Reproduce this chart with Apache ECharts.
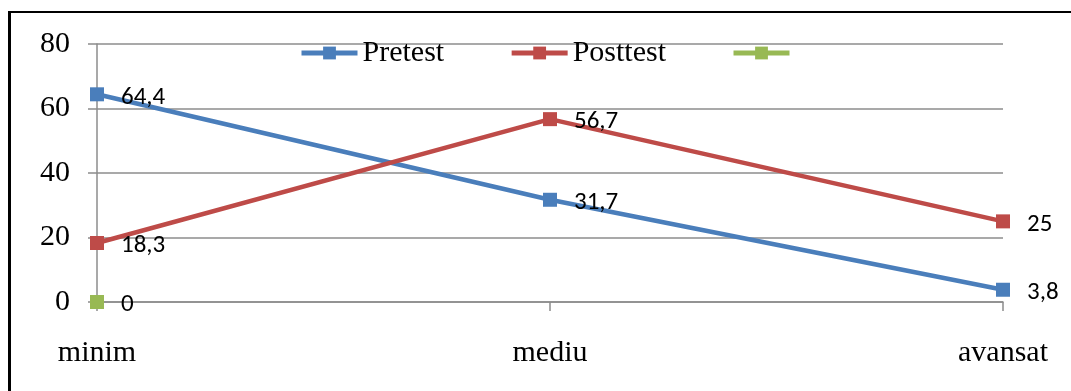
<!DOCTYPE html>
<html>
<head>
<meta charset="utf-8">
<script src="https://cdn.jsdelivr.net/npm/echarts@6/dist/echarts.min.js"></script>
<style>
  html, body { margin: 0; padding: 0; background: #fff; }
  #wrap { position: relative; width: 1071px; height: 391px; overflow: hidden; background: #fff; }
  #frame { position: absolute; left: 8px; top: 11px; width: 1100px; height: 400px; border-top: 2px solid #000; border-left: 3px solid #000; box-sizing: border-box; }
  #chart { position: absolute; left: 0; top: 0; width: 1071px; height: 391px; }
</style>
</head>
<body>
<div id="wrap">
  <div id="frame"></div>
  <div id="chart"></div>
</div>
<script>
const categories = ['minim', 'mediu', 'avansat'];
const pretest = [64.4, 31.7, 3.8];
const posttest = [18.3, 56.7, 25];
const third = [0, null, null];
const seriesNames = ['Pretest', 'Posttest', ' '];
const yTicks = [0, 20, 40, 60, 80];

const serif = '"Liberation Serif", "Times New Roman", serif';
const sans = 'Carlito, Lato, "Open Sans", sans-serif';
const gridColor = '#8c8c8c';

function fmt(p) {
  if (p.value === null || p.value === undefined) return '';
  return String(p.value).replace('.', ',');
}

function mkSeries(name, data, color) {
  return {
    name: name,
    type: 'line',
    data: data,
    symbol: 'rect',
    symbolSize: 14,
    showAllSymbol: true,
    connectNulls: false,
    lineStyle: { color: color, width: 4.5 },
    itemStyle: { color: color },
    label: {
      show: true,
      position: 'right',
      distance: 17,
      offset: [0, 3],
      formatter: fmt,
      fontFamily: sans,
      fontSize: 25,
      color: '#000'
    }
  };
}

const chart = echarts.init(document.getElementById('chart'), null, { renderer: 'canvas' });
chart.setOption({
  animation: false,
  backgroundColor: 'transparent',
  grid: { left: 97, right: 68, top: 44, bottom: 89, containLabel: false },
  legend: {
    data: seriesNames,
    left: 294,
    top: 33,
    itemWidth: 56,
    itemHeight: 16,
    itemGap: 65,
    lineStyle: { width: 5 },
    textStyle: { fontFamily: serif, fontSize: 30, color: '#000' }
  },
  xAxis: {
    type: 'category',
    data: categories,
    boundaryGap: false,
    axisLine: { show: true, lineStyle: { color: gridColor, width: 1.5 } },
    axisTick: { show: true, length: 9, lineStyle: { color: gridColor, width: 1.5 } },
    axisLabel: { fontFamily: serif, fontSize: 30, color: '#000', margin: 36 },
    splitLine: { show: false }
  },
  yAxis: {
    type: 'value',
    min: yTicks[0],
    max: yTicks[yTicks.length - 1],
    interval: 20,
    axisLine: { show: true, lineStyle: { color: gridColor, width: 1.5 } },
    axisTick: { show: true, length: 9, lineStyle: { color: gridColor, width: 1.5 } },
    axisLabel: { fontFamily: serif, fontSize: 30, color: '#000', margin: 27 },
    splitLine: { show: true, lineStyle: { color: gridColor, width: 1.5 } }
  },
  series: [
    mkSeries(seriesNames[0], pretest, '#4A7EBB'),
    mkSeries(seriesNames[1], posttest, '#BE4B48'),
    mkSeries(seriesNames[2], third, '#98B954')
  ]
});
</script>
</body>
</html>
